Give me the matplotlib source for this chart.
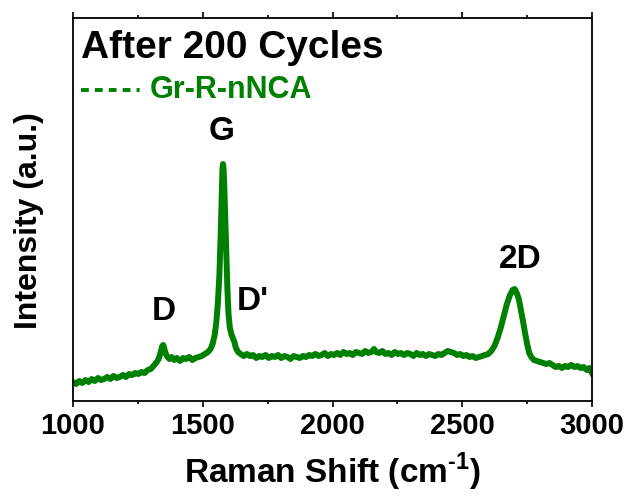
import matplotlib
matplotlib.use("Agg")
import matplotlib.pyplot as plt
from matplotlib.ticker import MultipleLocator

plt.rcParams['font.family'] = ['Liberation Sans', 'DejaVu Sans']
plt.rcParams['font.weight'] = 'bold'
plt.rcParams['lines.scale_dashes'] = False
plt.rcParams['mathtext.fontset'] = 'custom'
plt.rcParams['mathtext.rm'] = 'Liberation Sans:bold'
plt.rcParams['mathtext.bf'] = 'Liberation Sans:bold'

# Raman spectrum of the cycled electrode (wavenumber in cm^-1, intensity in a.u.)
raman_shift = [
    1000, 1012, 1024, 1036, 1048, 1060, 1072, 1084, 1096, 1108, 1120, 1132, 1144, 1156,
    1168, 1180, 1192, 1204, 1216, 1228, 1240, 1252, 1264, 1276, 1288, 1300, 1310, 1320,
    1330, 1338, 1344, 1348, 1352, 1358, 1364, 1372, 1380, 1390, 1400, 1412, 1424, 1436,
    1448, 1460, 1472, 1484, 1496, 1508, 1520, 1530, 1538, 1546, 1552, 1558, 1564, 1569,
    1573, 1576, 1578, 1580, 1583, 1587, 1591, 1595, 1599, 1604, 1610, 1616, 1622, 1628,
    1636, 1646, 1658, 1670, 1682, 1694, 1706, 1718, 1730, 1742, 1754, 1766, 1778, 1790,
    1802, 1814, 1826, 1838, 1850, 1862, 1874, 1886, 1898, 1910, 1922, 1934, 1946, 1958,
    1970, 1982, 1994, 2006, 2018, 2030, 2042, 2054, 2066, 2078, 2090, 2102, 2114, 2126,
    2138, 2150, 2160, 2168, 2180, 2192, 2204, 2216, 2228, 2240, 2252, 2264, 2276, 2288,
    2300, 2312, 2324, 2336, 2348, 2360, 2372, 2384, 2396, 2408, 2420, 2432, 2444, 2456,
    2468, 2480, 2492, 2504, 2516, 2528, 2540, 2552, 2564, 2576, 2588, 2600, 2612, 2624,
    2636, 2648, 2660, 2672, 2684, 2694, 2702, 2710, 2718, 2726, 2734, 2742, 2750, 2758,
    2766, 2776, 2788, 2800, 2812, 2824, 2836, 2848, 2860, 2872, 2884, 2896, 2908, 2920,
    2932, 2944, 2956, 2968, 2980, 2990, 3000,
]
intensity = [
    19, 17, 20, 18, 21, 19, 22, 20, 23, 21, 22, 24, 22, 25,
    23, 24, 26, 24, 27, 26, 28, 27, 29, 28, 31, 32, 35, 38,
    42, 49, 55, 56, 52, 47, 44, 42, 44, 41, 43, 40, 43, 42,
    44, 41, 43, 44, 45, 47, 49, 52, 57, 66, 78, 97, 125, 165,
    205, 232, 237, 233, 215, 180, 145, 112, 88, 74, 67, 63, 59, 53,
    49, 47, 45, 47, 45, 46, 43, 45, 44, 46, 43, 45, 44, 46,
    43, 45, 44, 42, 45, 44, 43, 45, 44, 46, 45, 47, 45, 46,
    48, 45, 47, 46, 48, 46, 49, 47, 48, 46, 49, 48, 47, 50,
    48, 49, 52, 49, 48, 50, 47, 48, 46, 49, 47, 48, 46, 48,
    47, 45, 48, 46, 47, 45, 47, 46, 45, 47, 46, 48, 50, 49,
    48, 46, 47, 45, 46, 44, 45, 43, 44, 45, 46, 47, 50, 55,
    63, 73, 85, 97, 106, 111, 112, 108, 102, 91, 80, 68, 57, 48,
    44, 41, 40, 39, 38, 37, 38, 36, 34, 35, 33, 35, 34, 36,
    34, 35, 33, 34, 31, 33, 28,
]

# Band labels and their positions
band_names = ["D", "G", "D'", "2D"]
band_x = [1350, 1574, 1632, 2723]
band_y = [89, 270, 99, 141]
band_ha = ["center", "center", "left", "center"]

title_text = "After 200 Cycles"
series_name = "Gr-R-nNCA"
green = "#008000"

fig = plt.figure(figsize=(6.28, 5.0), dpi=100)
ax = fig.add_axes([73 / 628, 99 / 500, 519 / 628, 383 / 500])

ax.plot(raman_shift, intensity, color=green, lw=4.3, solid_joinstyle='round')

ax.set_xlim(1000, 3000)
ax.set_ylim(0, 383)

ax.xaxis.set_major_locator(MultipleLocator(500))
ax.xaxis.set_minor_locator(MultipleLocator(250))
ax.tick_params(axis='x', which='major', direction='out', length=4.5, width=1.2,
               labelsize=21, pad=3.5, top=True)
ax.tick_params(axis='x', which='minor', direction='out', length=2.3, width=1.2, top=True)
ax.set_yticks([])
for s in ax.spines.values():
    s.set_linewidth(1.3)

ax.set_xlabel(r"Raman Shift (cm$^{\text{-1}}$)", fontsize=24, fontweight='bold', labelpad=8)
fig.text(29 / 628, 1 - 221 / 500, "Intensity (a.u.)", rotation=90, fontsize=23,
         fontweight='bold', ha='center', va='center')

for name, bx, by, ha in zip(band_names, band_x, band_y, band_ha):
    ax.text(bx, by, name, fontsize=24, fontweight='bold', ha=ha, va='center')

ax.text(0.0154, 0.8956, title_text, transform=ax.transAxes, fontsize=28,
        fontweight='bold', ha='left', va='baseline')
ax.plot([0.0154, 0.133], [0.812, 0.812], transform=ax.transAxes, color=green, lw=2.8,
        linestyle=(0, (5.6, 4.4, 5.6, 4.4, 5.6, 4.4, 5.6, 4.4, 2.2, 4.4)),
        dash_capstyle='butt')
ax.text(0.148, 0.791, series_name, transform=ax.transAxes, fontsize=22,
        fontweight='bold', color=green, ha='left', va='baseline')

fig.savefig("out.png", dpi=100)
